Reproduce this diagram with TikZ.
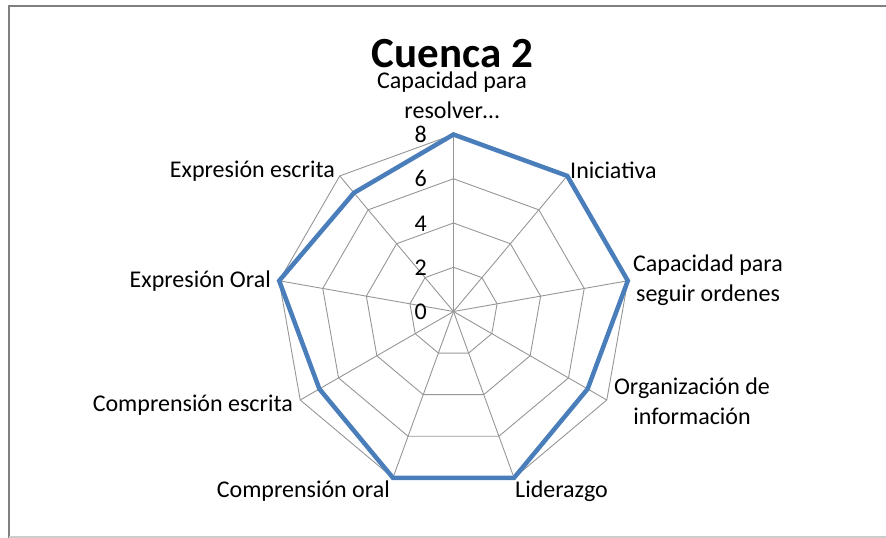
\documentclass[tikz,border=0pt]{standalone}
\usepackage{fontspec}
\setmainfont{Carlito}
\usepackage{tikz}
\definecolor{serieblue}{RGB}{74,126,187}
\definecolor{gridgray}{RGB}{150,150,150}

\begin{document}
\begin{tikzpicture}[x=1pt, y=-1pt,
  gridline/.style = {draw=gridgray, line width=0.9pt},
  serie/.style = {draw=serieblue, line width=4.5pt},
  lbl/.style = {inner sep=0pt, font=\fontsize{24}{29.5}\selectfont},
  tick/.style = {lbl, anchor=base east}]
\useasboundingbox (0,0) rectangle (886,538);
% marco
\draw[line width=2pt, color=gray] (886,6) -- (9,6) -- (9,538);
\draw[line width=1.5pt, color=black!20] (9,537) -- (886,537);
% ejes y anillos
\coordinate (c) at (453.5,311.5);
\foreach \k in {0,...,8}
\coordinate (a\k) at ({453.5+177*sin(40*\k)}, {311.5-177*cos(40*\k)});
\foreach \r in {2,4,6,8}
\draw[gridline] (453.5,{311.5-22.125*\r}) \foreach \k in {1,...,8} {-- ({453.5+22.125*\r*sin(40*\k)}, {311.5-22.125*\r*cos(40*\k)})} -- cycle;
\foreach \k in {0,...,8}
\draw[gridline] (c) -- (a\k);
\foreach \r in {0,2,4,6,8}
\node[tick] (t\r) at (427, {319.5-22.125*\r}) {\r};
% serie
\foreach \v [count=\k from 0] in {8,8,8,7,8,8,7,8,7}
\coordinate (p\k) at ({453.5+22.125*\v*sin(40*\k)}, {311.5-22.125*\v*cos(40*\k)});
\draw[serie] (p0) -- (p1) -- (p2) -- (p3) -- (p4) -- (p5) -- (p6) -- (p7) -- (p8) -- cycle;
% textos
\node[lbl, anchor=base, text depth=0pt, font=\fontsize{43}{50}\selectfont\bfseries] (titulo) at (452.5,67) {Cuenca 2};
\node[lbl, anchor=base, align=center] (resolver) at (452,118) {Capacidad para\\resolver…};
\node[lbl, anchor=base west] (iniciativa) at (570,178) {Iniciativa};
\node[lbl, anchor=base, align=center] (ordenes) at (708,301) {Capacidad para\\seguir ordenes};
\node[lbl, anchor=base, align=center] (organizacion) at (692,424) {Organización de\\información};
\node[lbl, anchor=base west] (liderazgo) at (515,497) {Liderazgo};
\node[lbl, anchor=base east] (comporal) at (390,497) {Comprensión oral};
\node[lbl, anchor=base east] (compescrita) at (293,411) {Comprensión escrita};
\node[lbl, anchor=base east] (exporal) at (271,287) {Expresión Oral};
\node[lbl, anchor=base east] (expescrita) at (335,177) {Expresión escrita};
\end{tikzpicture}
\end{document}
